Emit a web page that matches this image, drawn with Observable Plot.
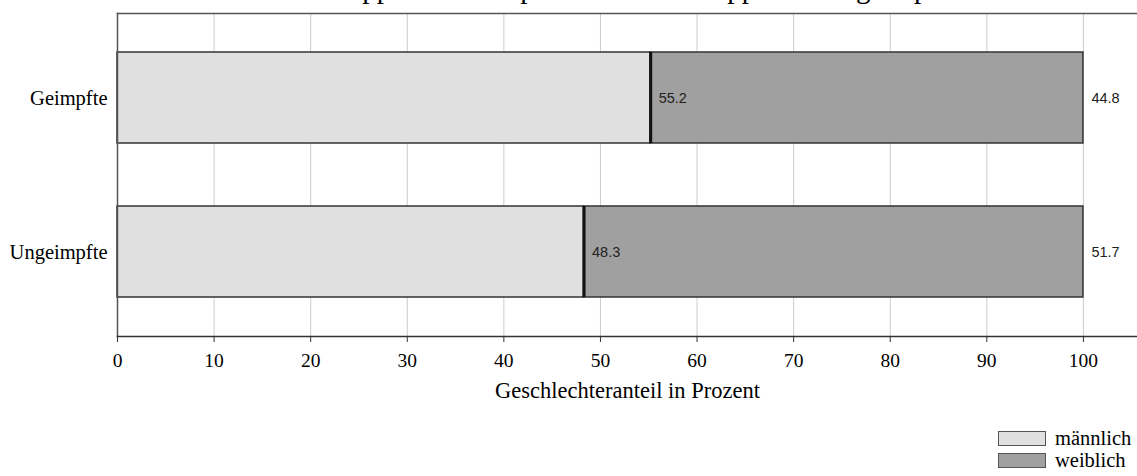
<!DOCTYPE html>
<html>
<head>
<meta charset="utf-8">
<script src="https://cdn.jsdelivr.net/npm/d3@7"></script>
<script src="https://cdn.jsdelivr.net/npm/@observablehq/plot@0.6"></script>
<style>
  html, body { margin: 0; padding: 0; background: #fff; overflow: hidden; }
  #wrap { position: relative; width: 1137px; height: 476px; overflow: hidden; background: #fff; }
  #title { position: absolute; z-index: 2; left: 0; width: 1137px; top: -26px; text-align: center;
           font: 29px "Liberation Serif", "DejaVu Serif", serif; line-height: 29px; color: #000; white-space: nowrap; }
  #chart { position: absolute; z-index: 1; left: 0; top: 0; }
  #legend { position: absolute; z-index: 3; left: 0; top: 0; }
  .leg { position: absolute; left: 998px; width: 46px; height: 13px; border: 1.5px solid #555; box-sizing: content-box; }
  .legt { position: absolute; left: 1055px; font: 20.5px "Liberation Serif", serif; color: #000; line-height: 21px; white-space: nowrap; }
</style>
</head>
<body>
<div id="wrap">
  <div id="title">Anteil in der Gruppe der Geimpften und der Gruppe der Ungeimpften</div>
  <div id="chart"></div>
  <div id="legend"></div>
</div>
<script>
const groups = ["Geimpfte", "Ungeimpfte"];
const sexes = ["männlich", "weiblich"];
const maleShare = [55.2, 48.3];
const femaleShare = [44.8, 51.7];
const xTicks = [0, 10, 20, 30, 40, 50, 60, 70, 80, 90, 100];
const xLabel = "Geschlechteranteil in Prozent";
const colors = ["#e0e0e0", "#a0a0a0"];

const rows = [];
groups.forEach((g, i) => {
  rows.push({group: g, sex: sexes[0], value: maleShare[i]});
  rows.push({group: g, sex: sexes[1], value: femaleShare[i]});
});
const maleRows = rows.filter(d => d.sex === sexes[0]);

const serif = "'Liberation Serif', 'Times New Roman', serif";
const plot = Plot.plot({
  width: 1137,
  height: 410,
  marginLeft: 117,
  marginRight: 0,
  marginTop: 13,
  marginBottom: 74,
  style: {fontFamily: serif, background: "white", color: "#000"},
  x: {domain: [0, 105.6]},
  y: {domain: groups, paddingInner: 0.409, paddingOuter: 0.253},
  color: {domain: sexes, range: colors},
  marks: [
    Plot.ruleX(xTicks, {stroke: "#cccccc", strokeWidth: 1}),
    Plot.barX(rows, Plot.stackX({x: "value", y: "group", fill: "sex", z: "sex", order: sexes, stroke: "#333", strokeWidth: 1.5})),
    Plot.tickX(maleRows, {x: "value", y: "group", stroke: "#111", strokeWidth: 3}),
    Plot.text(rows, Plot.stackX2({x: "value", y: "group", z: "sex", order: sexes, text: d => d.value.toFixed(1),
      dx: 8, textAnchor: "start", fontFamily: "'Liberation Sans', Arial, sans-serif", fontSize: 14.5, fill: "#222"})),
    Plot.frame({anchor: "top", stroke: "#555", strokeWidth: 1.5}),
    Plot.frame({anchor: "left", stroke: "#555", strokeWidth: 1.5}),
    Plot.frame({anchor: "bottom", stroke: "#333", strokeWidth: 1.5}),
    Plot.axisX({ticks: xTicks, tickSize: 6, tickPadding: 11, fontSize: 19.5, stroke: "#333", label: null}),
    Plot.text([xLabel], {frameAnchor: "bottom", dy: 54, fontSize: 22.5, lineAnchor: "middle", fill: "#000"}),
    Plot.axisY({tickSize: 0, tickPadding: 10, fontSize: 20.5, label: null})
  ]
});
document.getElementById("chart").appendChild(plot);

// legend
const leg = document.getElementById("legend");
sexes.forEach((s, i) => {
  const sw = document.createElement("div");
  sw.className = "leg";
  sw.style.top = (431 + i * 22) + "px";
  sw.style.background = colors[i];
  leg.appendChild(sw);
  const t = document.createElement("div");
  t.className = "legt";
  t.style.top = (428 + i * 22) + "px";
  t.textContent = s;
  leg.appendChild(t);
});
</script>
</body>
</html>
